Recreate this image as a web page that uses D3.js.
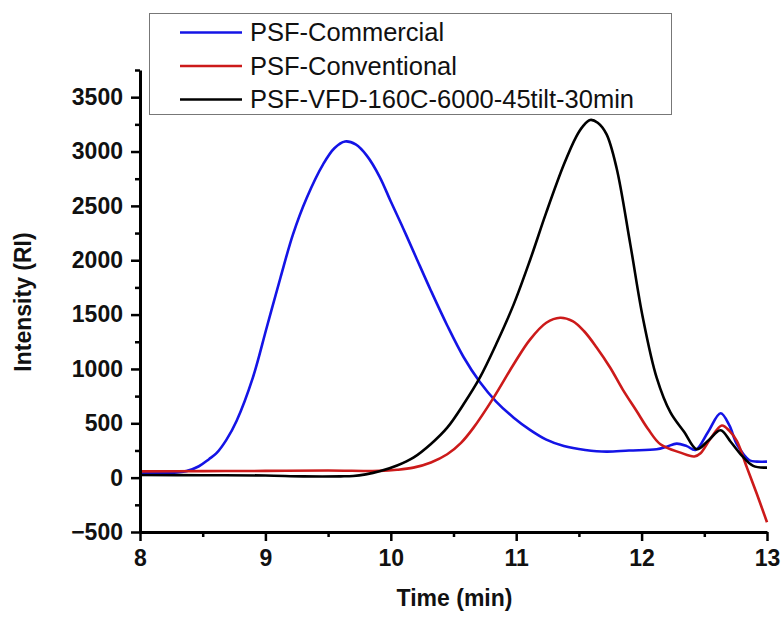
<!DOCTYPE html>
<html>
<head>
<meta charset="utf-8">
<script src="https://cdn.jsdelivr.net/npm/d3@7"></script>
<style>
  body { margin: 0; background: #fff; }
  text { font-family: "Liberation Sans", Arial, sans-serif; }
</style>
</head>
<body>
<svg id="chart"></svg>
<script>
// series (time in min, intensity in RI)
const commercialTime = [8.0, 8.2, 8.37, 8.47, 8.55, 8.61, 8.69, 8.77, 8.90, 9.01, 9.12, 9.22, 9.33, 9.46, 9.55, 9.635, 9.72, 9.81, 9.91, 10.0, 10.1, 10.2, 10.32, 10.45, 10.58, 10.71, 10.84, 10.98, 11.11, 11.24, 11.38, 11.55, 11.72, 11.90, 12.12, 12.20, 12.28, 12.36, 12.43, 12.53, 12.63, 12.70, 12.76, 12.86, 12.92, 13.0];
const commercialRI   = [40, 42, 60, 105, 170, 225, 350, 521, 920, 1379, 1839, 2238, 2575, 2882, 3030, 3092, 3065, 2960, 2770, 2540, 2290, 2030, 1720, 1400, 1110, 880, 700, 552, 440, 350, 291, 255, 239, 250, 261, 285, 313, 290, 255, 420, 592, 480, 307, 160, 147, 147];

const conventionalTime = [8.0, 8.5, 9.0, 9.5, 9.91, 10.05, 10.18, 10.32, 10.45, 10.56, 10.66, 10.82, 10.98, 11.11, 11.24, 11.35, 11.45, 11.54, 11.64, 11.75, 11.85, 11.96, 12.05, 12.15, 12.31, 12.42, 12.47, 12.55, 12.64, 12.70, 12.76, 12.84, 12.92, 13.0];
const conventionalRI   = [58, 60, 62, 66, 62, 72, 92, 140, 215, 320, 460, 736, 1043, 1270, 1425, 1471, 1440, 1349, 1200, 1011, 810, 613, 450, 307, 230, 195, 225, 360, 480, 430, 337, 92, -153, -410];

const vfdTime = [8.0, 8.5, 9.0, 9.3, 9.6, 9.7, 9.8, 9.91, 10.05, 10.18, 10.32, 10.45, 10.58, 10.71, 10.84, 10.98, 11.11, 11.24, 11.38, 11.48, 11.53, 11.59, 11.65, 11.72, 11.80, 11.91, 12.01, 12.12, 12.23, 12.34, 12.44, 12.53, 12.63, 12.71, 12.79, 12.89, 13.0];
const vfdRI   = [25, 22, 20, 12, 12, 15, 30, 58, 112, 184, 310, 460, 675, 920, 1227, 1594, 2000, 2440, 2880, 3140, 3230, 3290, 3265, 3160, 2851, 2146, 1471, 920, 600, 420, 261, 340, 436, 330, 215, 108, 92];

const seriesNames = ["PSF-Commercial", "PSF-Conventional", "PSF-VFD-160C-6000-45tilt-30min"];
const seriesColors = ["#1414e6", "#cc1a1a", "#000000"];

const xMajor = [8, 9, 10, 11, 12, 13];
const xMinor = [8.5, 9.5, 10.5, 11.5, 12.5];
const yMajor = [-500, 0, 500, 1000, 1500, 2000, 2500, 3000, 3500];
const yMinor = [-250, 250, 750, 1250, 1750, 2250, 2750, 3250, 3750];

const width = 783, height = 617;
const margin = {top: 70, right: 16, bottom: 85, left: 140};

const svg = d3.select("#chart")
    .attr("width", width)
    .attr("height", height);

const xScale = d3.scaleLinear()
    .domain([8, 13])
    .range([margin.left, width - margin.right]);

const yScale = d3.scaleLinear()
    .domain([-500, 3750])
    .range([height - margin.bottom, margin.top]);

const series = [
    {time: commercialTime, ri: commercialRI},
    {time: conventionalTime, ri: conventionalRI},
    {time: vfdTime, ri: vfdRI}
].map((s, i) => ({
    name: seriesNames[i],
    color: seriesColors[i],
    points: s.time.map((t, j) => ({t: t, v: s.ri[j]}))
}));

const line = d3.line()
    .x(d => xScale(d.t))
    .y(d => yScale(d.v))
    .curve(d3.curveCatmullRom.alpha(0.5));

// curves
svg.append("g")
    .selectAll("path")
    .data(series)
    .enter()
    .append("path")
        .attr("d", d => line(d.points))
        .attr("fill", "none")
        .attr("stroke", d => d.color)
        .attr("stroke-width", 2.6)
        .attr("stroke-linejoin", "round");

// minor ticks first, then the major axes on top
svg.append("g")
    .attr("transform", "translate(0," + yScale(-500) + ")")
    .call(d3.axisBottom(xScale).tickValues(xMinor).tickSize(5).tickSizeOuter(0).tickFormat(""))
    .call(g => g.select(".domain").remove())
    .selectAll("line").attr("stroke-width", 2.5);

svg.append("g")
    .attr("transform", "translate(" + margin.left + ",0)")
    .call(d3.axisLeft(yScale).tickValues(yMinor).tickSize(5).tickSizeOuter(0).tickFormat(""))
    .call(g => g.select(".domain").remove())
    .selectAll("line").attr("stroke-width", 2.5);

const xAxis = svg.append("g")
    .attr("transform", "translate(0," + yScale(-500) + ")")
    .call(d3.axisBottom(xScale).tickValues(xMajor).tickSize(9).tickSizeOuter(0)
        .tickPadding(9).tickFormat(d3.format("d")));

const yAxis = svg.append("g")
    .attr("transform", "translate(" + margin.left + ",0)")
    .call(d3.axisLeft(yScale).tickValues(yMajor).tickSize(9).tickSizeOuter(0)
        .tickPadding(8).tickFormat(d3.format("d")));

[xAxis, yAxis].forEach(ax => {
    ax.select(".domain").attr("stroke-width", 3);
    ax.selectAll(".tick line").attr("stroke-width", 2.5);
    ax.selectAll(".tick text")
        .style("font-family", "'Liberation Sans', Arial, sans-serif")
        .style("font-size", "23px")
        .style("font-weight", "bold")
        .attr("fill", "#111");
});

// axis titles
svg.append("text")
    .attr("x", (xScale(8) + xScale(13)) / 2 + 1)
    .attr("y", 606)
    .attr("text-anchor", "middle")
    .style("font-size", "23px")
    .style("font-weight", "bold")
    .attr("fill", "#111")
    .text("Time (min)");

svg.append("text")
    .attr("transform", "translate(31,302) rotate(-90)")
    .attr("text-anchor", "middle")
    .style("font-size", "23px")
    .style("font-weight", "bold")
    .attr("fill", "#111")
    .text("Intensity (RI)");

// legend
const legend = svg.append("g");
legend.append("rect")
    .attr("x", 149.5)
    .attr("y", 13.5)
    .attr("width", 522)
    .attr("height", 101)
    .attr("fill", "#fff")
    .attr("stroke", "#777")
    .attr("stroke-width", 1);

const rows = legend.selectAll("g.row")
    .data(series)
    .enter()
    .append("g")
        .attr("class", "row")
        .attr("transform", (d, i) => "translate(0," + (32.5 + i * 33.5) + ")");

rows.append("line")
    .attr("x1", 180)
    .attr("x2", 242)
    .attr("stroke", d => d.color)
    .attr("stroke-width", 2.5);

rows.append("text")
    .attr("x", 250)
    .attr("y", 8.5)
    .style("font-size", "25.5px")
    .attr("fill", "#111")
    .text(d => d.name);
</script>
</body>
</html>
